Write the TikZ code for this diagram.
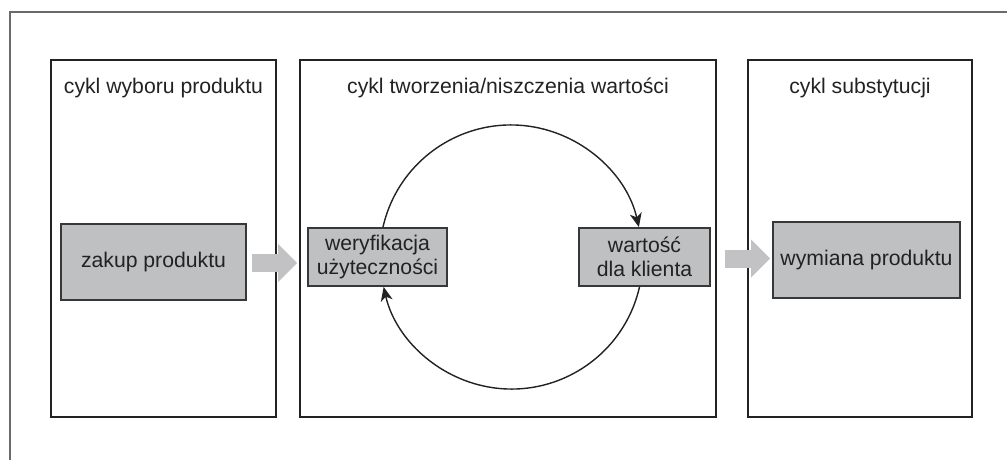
\documentclass[tikz,border=0pt]{standalone}
\usepackage{fontspec}
\setmainfont{Liberation Sans}
\usetikzlibrary{arrows.meta}
\definecolor{boxgray}{HTML}{BFC0C2}
\definecolor{arrowgray}{HTML}{C2C2C4}
\definecolor{ink}{HTML}{222222}
\definecolor{framegray}{HTML}{6A6A6A}
\begin{document}
\begin{tikzpicture}[x=1pt,y=-1pt,
  font=\fontsize{21.2}{24}\selectfont, text=ink,
  panel/.style={draw=ink, line width=1.4pt, minimum width=#1, minimum height=357pt, inner sep=0pt},
  box/.style={draw=ink!90, fill=boxgray, line width=1.8pt, inner sep=0pt},
  title/.style={anchor=base},
  blockarrow/.style={draw=arrowgray, line width=18pt, -{Triangle[length=19pt, width=38pt, line width=0pt]}},
  cyc/.style={draw=ink, line width=1.4pt, -{Stealth[length=14pt, width=12pt, inset=4pt]}}]
\useasboundingbox (0,0) rectangle (1007,460);
\draw[framegray, line width=1.5pt] (1007,12) -- (10,12) -- (10,460);
% panels
\node[panel=225pt] (p1) at (163.5,238.5) {};
\node[panel=416pt] (p2) at (508,238.5) {};
\node[panel=224pt] (p3) at (860,238.5) {};
% titles
\node[title] (t1) at ([yshift=-34pt]p1.north) {cykl wyboru produktu};
\node[title] (t2) at ([yshift=-34pt]p2.north) {cykl tworzenia/niszczenia wartości};
\node[title] (t3) at ([yshift=-34pt]p3.north) {cykl substytucji};
% boxes
\node[box, minimum width=185pt, minimum height=76pt] (zak) at (153.5,262) {zakup produktu};
\node[box, minimum width=139pt, minimum height=58pt, align=center] (wer) at (377.5,257) {weryfikacja\\użyteczności};
\node[box, minimum width=131pt, minimum height=58pt, align=center] (war) at (644.5,257) {wartość\\dla klienta};
\node[box, minimum width=187pt, minimum height=76pt] (wym) at (866.5,260) {wymiana produktu};
% block arrows
\coordinate (a1s) at (252,263);
\coordinate (a1e) at (297,263);
\coordinate (a2s) at (725,258.5);
\coordinate (a2e) at (770,258.5);
\draw[blockarrow] (a1s) -- (a1e);
\draw[blockarrow] (a2s) -- (a2e);
% cycle arcs
\draw[cyc] ([xshift=5.5pt]wer.north) arc[start angle=-167.2, end angle=-12.8, radius=131.2];
\draw[cyc] ([xshift=-5pt]war.south) arc[start angle=12.8, end angle=167.2, radius=131.2];
\end{tikzpicture}
\end{document}
